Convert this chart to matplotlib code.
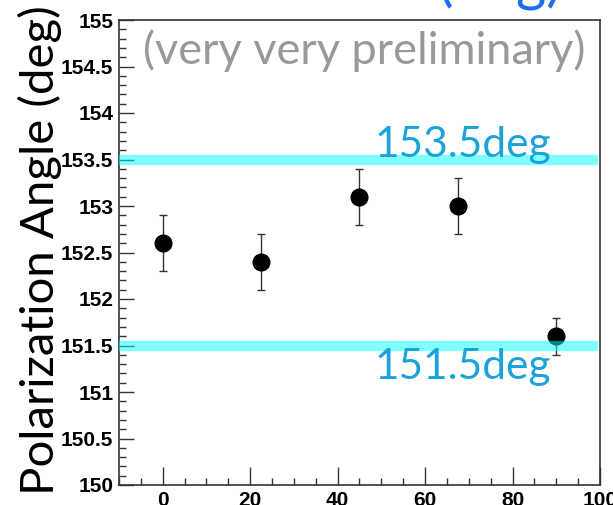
import matplotlib
matplotlib.use('Agg')
import matplotlib.pyplot as plt
from matplotlib.ticker import MultipleLocator

# data
x_vals = [0, 22.5, 45, 67.5, 90]
angles = [152.6, 152.4, 153.1, 153.0, 151.6]
errors = [0.3, 0.3, 0.3, 0.3, 0.2]
ref_lines = [153.5, 151.5]
ref_labels = ['153.5deg', '151.5deg']

fig = plt.figure(figsize=(6.13, 5.05), dpi=100)
ax = fig.add_axes([119/613, 20/505, 481/613, 465/505])

ax.errorbar(x_vals, angles, yerr=errors, fmt='o', color='black', ms=12,
            ecolor='#333333', elinewidth=1, capsize=3, capthick=1, zorder=3)

# reference bands
for yv in ref_lines:
    ax.axhline(yv, xmin=0, xmax=0.995, color='cyan', alpha=0.5, lw=7.5, zorder=4,
               solid_capstyle='butt')

ax.text(48.5, 153.53, ref_labels[0], color='#1aa3d9', fontsize=30.5,
        family='Lato', va='baseline', ha='left', zorder=5)
ax.text(48.5, 151.47, ref_labels[1], color='#1aa3d9', fontsize=30.5,
        family='Lato', va='top', ha='left', zorder=5)

ax.text(0.05, 0.935, '(very very preliminary)', color='#999999', fontsize=32.5,
        family='Lato', transform=ax.transAxes, va='center', ha='left')

ax.set_xlim(-10, 100)
ax.set_ylim(150, 155)
ax.xaxis.set_major_locator(MultipleLocator(20))
ax.xaxis.set_minor_locator(MultipleLocator(5))
ax.yaxis.set_major_locator(MultipleLocator(0.5))
ax.yaxis.set_minor_locator(MultipleLocator(0.1))
ax.yaxis.set_major_formatter(plt.FuncFormatter(lambda v, p: ('%g' % v)))

ax.tick_params(which='both', direction='in', top=False, right=False,
               labelsize=15, width=1, color='#333333')
ax.tick_params(axis='y', which='major', length=11, pad=4)
ax.tick_params(axis='x', which='major', length=13, pad=4)
ax.tick_params(which='minor', length=5)
for lab in ax.get_xticklabels() + ax.get_yticklabels():
    lab.set_fontweight('bold')
    lab.set_family('Liberation Sans')

for s in ax.spines.values():
    s.set_color('#333333')
    s.set_linewidth(1.2)

fig.text(40/613, 0.505, 'Polarization Angle (deg)', rotation=90, fontsize=34,
         family='Lato', va='center', ha='center')

# title cut off at the top of the slide
fig.text(562/613, 1 + 1/505, '(deg)', color='#1a6ef0', fontsize=42,
         family='Lato', va='baseline', ha='right')

fig.savefig('out.png', dpi=100)
